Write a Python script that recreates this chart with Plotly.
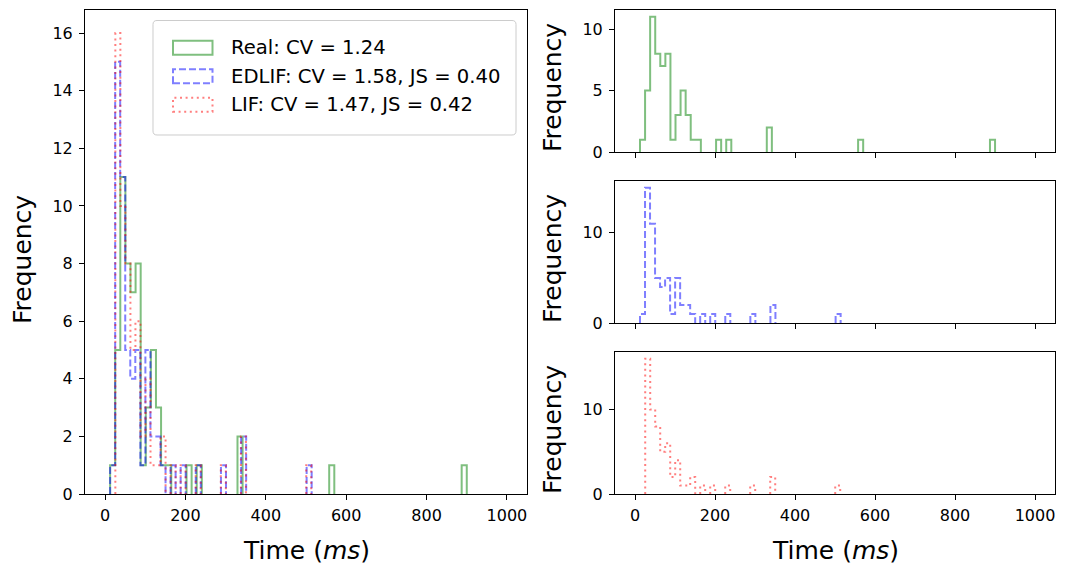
import numpy as np
import plotly.graph_objects as go

W, H = 1066, 565

# ---------------- data (histogram bin ranges and counts) ----------------
real_label = "Real: CV = 1.24"
edlif_label = "EDLIF: CV = 1.58, JS = 0.40"
lif_label = "LIF: CV = 1.47, JS = 0.42"

real_range = (12.5, 900.1)
real_counts = [1, 5, 11, 8, 7, 8, 1, 3, 5, 3, 1, 1,
               0, 0, 0, 1, 0, 1, 0, 0, 0, 0, 0, 0, 0, 2,
               0, 0, 0, 0, 0, 0, 0, 0, 0, 0, 0, 0, 0, 0, 0, 0, 0, 1,
               0, 0, 0, 0, 0, 0, 0, 0, 0, 0, 0, 0, 0, 0, 0, 0, 0, 0, 0, 0, 0, 0, 0, 0, 0, 1]

edlif_range = (12.5, 514.1)
edlif_counts = [1, 15, 11, 5, 4, 5, 1, 5, 2, 2, 1, 0, 1, 0, 1, 0, 0, 1, 0, 0,
                0, 0, 1, 0, 0, 0, 2, 0, 0, 0, 0, 0, 0, 0, 0, 0, 0, 0, 0, 1]

lif_range = (25.5, 513.0)
lif_counts = [16, 10, 8, 5, 6, 2, 4, 1, 1, 2, 0, 1, 0, 1, 0, 0, 1, 0, 0, 0,
              0, 1, 0, 0, 0, 2, 0, 0, 0, 0, 0, 0, 0, 0, 0, 0, 0, 0, 1]

x_ticks = [0, 200, 400, 600, 800, 1000]
left_y_ticks = [0, 2, 4, 6, 8, 10, 12, 14, 16]
top_y_ticks = [0, 5, 10]
mid_y_ticks = [0, 10]
bot_y_ticks = [0, 10]

# ---------------- styles ----------------
FONT = "DejaVu Sans"
GREEN = "rgba(0,128,0,0.5)"
BLUE = "rgba(0,0,255,0.5)"
RED = "rgba(255,0,0,0.5)"
LW = 2
DASH_B = "7px,3px"
DASH_R = "2px,3.6px"


def step_xy(rng, counts):
    """Outline of a step histogram; empty stretches on the baseline are left out."""
    edges = np.linspace(rng[0], rng[1], len(counts) + 1)
    xs, ys = [], []
    prev = 0
    for i, c in enumerate(list(counts) + [0]):
        e = float(edges[i])
        if prev == 0 and c == 0:
            continue
        if prev == 0 and xs:
            xs.append(None)
            ys.append(None)
        xs += [e, e]
        ys += [prev, c]
        prev = c
    return xs, ys


fig = go.Figure()

series = [
    (real_range, real_counts, GREEN, "solid"),
    (edlif_range, edlif_counts, BLUE, DASH_B),
    (lif_range, lif_counts, RED, DASH_R),
]
# left overlay panel
for rng, cnt, col, dash in series:
    xs, ys = step_xy(rng, cnt)
    fig.add_trace(go.Scatter(x=xs, y=ys, mode="lines", line=dict(color=col, width=LW, dash=dash),
                             xaxis="x", yaxis="y", hoverinfo="skip"))
# right panels
for i, (rng, cnt, col, dash) in enumerate(series):
    xs, ys = step_xy(rng, cnt)
    fig.add_trace(go.Scatter(x=xs, y=ys, mode="lines", line=dict(color=col, width=LW, dash=dash),
                             xaxis="x%d" % (i + 2), yaxis="y%d" % (i + 2), hoverinfo="skip"))


def px_x(p):
    return p / W


def px_y(p):
    return 1 - p / H


common = dict(showline=True, linecolor="black", linewidth=1.1, mirror=True, ticks="outside",
              ticklen=5, tickwidth=1.1, tickcolor="black", showgrid=False, zeroline=False,
              automargin=False,
              tickfont=dict(family=FONT, size=16, color="black"))
xcommon = dict(ticklabelstandoff=2, **common)
ycommon = dict(ticklabelstandoff=3, **common)

L_X = (85, 527)
R_X = (615, 1055)

layout = dict(
    template="none",
    width=W, height=H, margin=dict(l=0, r=0, t=0, b=0, pad=0), autosize=False,
    paper_bgcolor="white", plot_bgcolor="white", showlegend=False,
    font=dict(family=FONT, color="black"),
    xaxis=dict(domain=[px_x(L_X[0]), px_x(L_X[1])], range=[-50, 1050], anchor="y", tickvals=x_ticks, **xcommon),
    yaxis=dict(domain=[px_y(494), px_y(10)], range=[0, 16.8], anchor="x", tickvals=left_y_ticks, **ycommon),
    xaxis2=dict(domain=[px_x(R_X[0]), px_x(R_X[1])], range=[-50, 1050], anchor="y2", tickvals=x_ticks,
                showticklabels=False, **xcommon),
    yaxis2=dict(domain=[px_y(152), px_y(10)], range=[0, 11.55], anchor="x2", tickvals=top_y_ticks, **ycommon),
    xaxis3=dict(domain=[px_x(R_X[0]), px_x(R_X[1])], range=[-50, 1050], anchor="y3", tickvals=x_ticks,
                showticklabels=False, **xcommon),
    yaxis3=dict(domain=[px_y(323), px_y(181)], range=[0, 15.75], anchor="x3", tickvals=mid_y_ticks, **ycommon),
    xaxis4=dict(domain=[px_x(R_X[0]), px_x(R_X[1])], range=[-50, 1050], anchor="y4", tickvals=x_ticks, **xcommon),
    yaxis4=dict(domain=[px_y(494), px_y(352)], range=[0, 16.8], anchor="x4", tickvals=bot_y_ticks, **ycommon),
)
fig.update_layout(**layout)

# axis titles
ann = []
TS = 25
ann.append(dict(text="Frequency", x=px_x(22), y=px_y(260), textangle=-90))
for yc in (88, 259, 430):
    ann.append(dict(text="Frequency", x=px_x(552), y=px_y(yc), textangle=-90))
ann.append(dict(text="Time (<i>ms</i>)", x=px_x((L_X[0] + L_X[1]) / 2), y=px_y(550)))
ann.append(dict(text="Time (<i>ms</i>)", x=px_x((R_X[0] + R_X[1]) / 2), y=px_y(550)))
for a in ann:
    a.update(xref="paper", yref="paper", showarrow=False, xanchor="center", yanchor="middle",
             font=dict(family=FONT, size=TS, color="black"))

# legend (drawn manually to get rectangular patch handles)
LS = 19.6
box = (153, 20.5, 516, 135)
r = 4
x0, y0, x1, y1 = box


def P(x, y):
    return "%f,%f" % (px_x(x), px_y(y))


path = ("M " + P(x0 + r, y0) + " L " + P(x1 - r, y0) + " Q " + P(x1, y0) + " " + P(x1, y0 + r) +
        " L " + P(x1, y1 - r) + " Q " + P(x1, y1) + " " + P(x1 - r, y1) +
        " L " + P(x0 + r, y1) + " Q " + P(x0, y1) + " " + P(x0, y1 - r) +
        " L " + P(x0, y0 + r) + " Q " + P(x0, y0) + " " + P(x0 + r, y0) + " Z")
shapes = [dict(type="path", path=path, xref="paper", yref="paper", layer="above",
               line=dict(color="#cccccc", width=1), fillcolor="rgba(255,255,255,0.8)")]

legend_rows = [(real_label, GREEN, "solid", 47.8), (edlif_label, BLUE, DASH_B, 76.3), (lif_label, RED, DASH_R, 104.8)]
for label, col, dash, yc in legend_rows:
    shapes.append(dict(type="rect", xref="paper", yref="paper", layer="above",
                       x0=px_x(173), x1=px_x(212.5), y0=px_y(yc + 7), y1=px_y(yc - 7),
                       line=dict(color=col, width=LW, dash=dash), fillcolor="rgba(0,0,0,0)"))
    ann.append(dict(text=label, x=px_x(229), y=px_y(yc), xref="paper", yref="paper", showarrow=False,
                    xanchor="left", yanchor="middle", font=dict(family=FONT, size=LS, color="black")))

fig.update_layout(annotations=ann, shapes=shapes)
fig.write_html("out.html")
